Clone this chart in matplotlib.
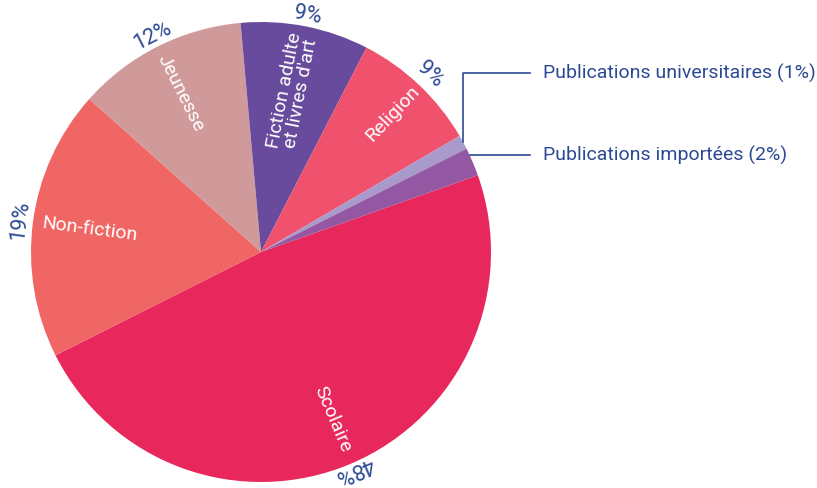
import numpy as np
import matplotlib
matplotlib.use("Agg")
import matplotlib.pyplot as plt

plt.rcParams['font.family'] = ['Roboto', 'DejaVu Sans']

# slices in clockwise order, starting from Scolaire
labels = ["Scolaire", "Non-fiction", "Jeunesse", "Fiction adulte\net livres d'art",
          "Religion", "Publications universitaires", "Publications importées"]
values = [48, 19, 12, 9, 9, 1, 2]
colors = ["#E8285C", "#F06664", "#D09A9B", "#684B9C", "#F0526E", "#A89BCB", "#9457A2"]
pct_text = ["48%", "19%", "12%", "9%", "9%", "1%", "2%"]
inside = [True, True, True, True, True, False, False]
# radius (in pie radii) of the inner label and of the percent label
r_in = [0.79, 0.75, 0.775, 0.71, 0.83, None, None]
r_out = [1.03, 1.055, 1.05, 1.05, 1.065, None, None]

blue = "#2C4A93"
W, H = 817, 488
cx, cy, R = 261, 252, 230

fig = plt.figure(figsize=(W / 100, H / 100), dpi=100)
ax = fig.add_axes([0, 0, 1, 1])

wedges, _ = ax.pie(values, colors=colors, startangle=19.5, counterclock=False,
                   radius=1, center=(0, 0), frame=True)
ax.set_xlim(-cx / R, (W - cx) / R)
ax.set_ylim(-(H - cy) / R, cy / R)
ax.set_aspect("auto")
ax.axis("off")

for w, lab, pct, ins, ri, ro in zip(wedges, labels, pct_text, inside, r_in, r_out):
    if not ins:
        continue
    mid = (w.theta1 + w.theta2) / 2
    a = np.deg2rad(mid)
    # label inside, along the radius, kept readable
    m = (mid + 180) % 360 - 180
    rot = m if -90 < m <= 90 else m - 180
    ax.text(ri * np.cos(a), ri * np.sin(a), lab, color="white", fontsize=14,
            rotation=rot, rotation_mode="anchor", ha="center", va="center",
            linespacing=0.95)
    # percent outside, tangent to the circle
    ax.text(ro * np.cos(a), ro * np.sin(a), pct, color=blue, fontsize=15.5,
            rotation=mid - 90, rotation_mode="anchor", ha="center", va="center")

# leader lines for the small slices
x_end, x_txt = 1.17, 1.225
w_univ = wedges[5]
mu = np.deg2rad((w_univ.theta1 + w_univ.theta2) / 2)
y_univ = 0.778
ax.plot([np.cos(mu), np.cos(mu), x_end], [np.sin(mu), y_univ, y_univ], color=blue, lw=1.2)
ax.text(x_txt, y_univ, "Publications universitaires (1%)", color=blue, fontsize=14,
        ha="left", va="center")

y_imp = 0.422
ax.plot([np.sqrt(1 - y_imp ** 2), x_end], [y_imp, y_imp], color=blue, lw=1.2)
ax.text(x_txt, y_imp, "Publications importées (2%)", color=blue, fontsize=14,
        ha="left", va="center")

fig.savefig("out.png", dpi=100)
